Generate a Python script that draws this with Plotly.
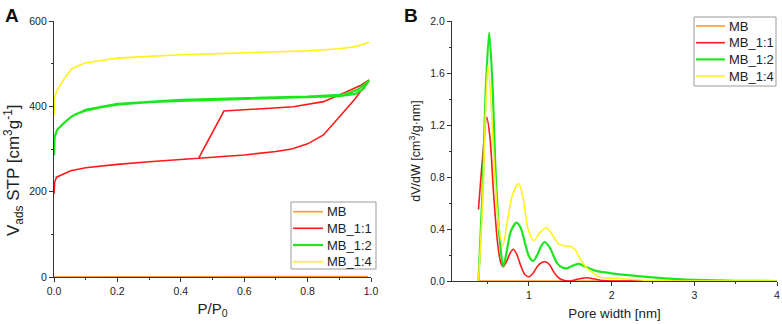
import plotly.graph_objects as go

# ---------------- Panel A: N2 isotherms ----------------
A_mb_x = [0.0, 0.05, 0.2, 0.4, 0.6, 0.8, 0.99]
A_mb_y = [0.0, 0.3, 0.5, 0.6, 0.7, 0.8, 1.0]

A_11_x = [0.0003, 0.002, 0.008, 0.03, 0.053, 0.1, 0.2, 0.3, 0.4, 0.456, 0.5, 0.6, 0.7, 0.75, 0.8, 0.85, 0.9, 0.95, 0.994,
          0.97, 0.923, 0.85, 0.755, 0.65, 0.536, 0.456]
A_11_y = [195, 222, 234, 242, 249, 256, 264, 270, 275, 279, 281, 286, 294, 300, 312, 333, 375, 418, 462,
          450, 434, 411, 399, 394, 389, 278]

A_12_x = [0.0003, 0.002, 0.01, 0.03, 0.055, 0.07, 0.1, 0.15, 0.2, 0.3, 0.4, 0.5, 0.6, 0.7, 0.8, 0.9, 0.95, 0.975, 0.994,
          0.98, 0.96, 0.93, 0.9, 0.8, 0.6, 0.4, 0.2, 0.1, 0.06]
A_12_y = [285, 328, 345, 360, 376, 382, 390, 398, 404, 410, 413, 415, 417, 419, 421, 424, 429, 440, 460,
          452, 440, 431, 427, 423, 419, 415, 406, 392, 378]

A_14_x = [0.0003, 0.002, 0.008, 0.03, 0.055, 0.07, 0.1, 0.15, 0.2, 0.3, 0.4, 0.5, 0.6, 0.7, 0.8, 0.9, 0.95, 0.994]
A_14_y = [380, 420, 436, 462, 487, 493, 502, 508, 513, 517, 521, 523, 525, 527, 530, 535, 540, 550]

# ---------------- Panel B: pore size distribution ----------------
B_mb_x = [0.39, 1.0, 2.0, 3.0, 4.0]
B_mb_y = [0.0, 0.0, 0.0, 0.0, 0.0]

B_11_x = [0.39, 0.44, 0.49, 0.53, 0.57, 0.62, 0.66, 0.69, 0.73, 0.77, 0.81, 0.85, 0.9, 0.95, 1.0, 1.05, 1.1, 1.15,
          1.2, 1.25, 1.3, 1.35, 1.4, 1.5, 1.6, 1.7, 1.8, 1.9, 2.0, 2.5, 3.0, 4.0]
B_11_y = [0.55, 0.95, 1.26, 1.1, 0.7, 0.3, 0.14, 0.11, 0.15, 0.21, 0.244, 0.21, 0.12, 0.05, 0.033, 0.06, 0.11, 0.14,
          0.148, 0.125, 0.07, 0.03, 0.01, 0.0, 0.015, 0.025, 0.015, 0.003, 0.0, 0.0, 0.0, 0.0]

B_12_x = [0.39, 0.44, 0.48, 0.52, 0.56, 0.6, 0.65, 0.69, 0.73, 0.78, 0.85, 0.9, 0.95, 1.0, 1.05, 1.1, 1.15, 1.19,
          1.25, 1.3, 1.35, 1.4, 1.46, 1.52, 1.6, 1.7, 1.8, 1.9, 2.0, 2.2, 2.5, 2.8, 3.0, 3.5, 4.0]
B_12_y = [0.0, 0.7, 1.5, 1.91, 1.5, 0.8, 0.3, 0.11, 0.22, 0.38, 0.449, 0.41, 0.3, 0.19, 0.154, 0.2, 0.27, 0.30,
          0.26, 0.19, 0.13, 0.105, 0.097, 0.115, 0.131, 0.105, 0.08, 0.068, 0.059, 0.045, 0.028, 0.014, 0.008, 0.002, 0.0]

B_14_x = [0.39, 0.44, 0.47, 0.505, 0.54, 0.58, 0.63, 0.685, 0.73, 0.8, 0.875, 0.93, 0.99, 1.06, 1.13, 1.21, 1.28,
          1.35, 1.42, 1.5, 1.56, 1.63, 1.7, 1.78, 1.85, 1.9, 2.0, 2.1, 2.2, 2.4, 2.6, 3.0, 4.0]
B_14_y = [0.0, 0.6, 1.2, 1.66, 1.4, 0.9, 0.45, 0.27, 0.42, 0.66, 0.75, 0.64, 0.4, 0.31, 0.37, 0.41, 0.36,
          0.29, 0.27, 0.268, 0.24, 0.16, 0.1, 0.06, 0.03, 0.025, 0.022, 0.02, 0.015, 0.006, 0.002, 0.0, 0.0]

names = ["MB", "MB_1:1", "MB_1:2", "MB_1:4"]
colors = ["#FF9A2E", "#FF1A1A", "#1EE61E", "#FFF21A"]
widths = [1.6, 1.6, 2.2, 1.6]

A_series = [(A_mb_x, A_mb_y), (A_11_x, A_11_y), (A_12_x, A_12_y), (A_14_x, A_14_y)]
B_series = [(B_mb_x, B_mb_y), (B_11_x, B_11_y), (B_12_x, B_12_y), (B_14_x, B_14_y)]

FONT = "Liberation Sans, Arial, sans-serif"
W, H = 782, 324
fig = go.Figure()

for (x, y), n, c, w in zip(A_series, names, colors, widths):
    fig.add_trace(go.Scatter(x=x, y=y, name=n, mode="lines", line=dict(color=c, width=w),
                             xaxis="x", yaxis="y", showlegend=False, cliponaxis=False))
for (x, y), n, c, w in zip(B_series, names, colors, widths):
    fig.add_trace(go.Scatter(x=x, y=y, name=n, mode="lines", line=dict(color=c, width=w, shape="spline", smoothing=0.8),
                             xaxis="x2", yaxis="y2", showlegend=False, cliponaxis=False))

axis_common = dict(showgrid=False, zeroline=False, showline=True, linecolor="#333333", linewidth=1.3,
                   ticks="outside", ticklen=4, tickwidth=1.2, tickcolor="#333333", automargin=False,
                   ticklabeloverflow="allow",
                   tickfont=dict(family=FONT, size=10.5, color="#222222"), layer="below traces")

# ---- compact legends (box, line samples, labels) in pixel positions ----
shapes = []
annotations = []


def add_legend(box, x_line, x_text, rows):
    x0, y0, x1, y1 = box
    shapes.append(dict(type="rect", xref="paper", yref="paper", x0=x0/W, x1=x1/W, y0=1-y1/H, y1=1-y0/H,
                       line=dict(color="#9a9a9a", width=1), fillcolor="white", layer="above"))
    for n, c, w, ry in zip(names, colors, widths, rows):
        shapes.append(dict(type="line", xref="paper", yref="paper", x0=x_line[0]/W, x1=x_line[1]/W,
                           y0=1-ry/H, y1=1-ry/H, line=dict(color=c, width=w), layer="above"))
        annotations.append(dict(text=n, xref="paper", yref="paper", x=x_text/W, y=1-ry/H, xanchor="left",
                                yanchor="middle", showarrow=False, font=dict(family=FONT, size=13, color="#222222")))


add_legend((291, 202, 376, 269), (293, 323), 325, [211.7, 228.3, 245.0, 261.7])
add_legend((694, 17, 776, 86), (696, 725), 727, [26.0, 42.7, 59.4, 76.1])

annotations += [
    dict(text="<b>A</b>", x=3/W, y=1-3/H, xref="paper", yref="paper", xanchor="left", yanchor="top",
         showarrow=False, font=dict(family=FONT, size=19, color="#111111")),
    dict(text="<b>B</b>", x=402/W, y=1-3/H, xref="paper", yref="paper", xanchor="left", yanchor="top",
         showarrow=False, font=dict(family=FONT, size=19, color="#111111")),
    # y-axis title of panel A (placed like the reference, slightly below the axis centre)
    dict(text="V<sub>ads</sub> STP [cm<sup>3</sup>g<sup>-1</sup>]", x=13/W, y=1-170/H, xref="paper", yref="paper",
         xanchor="center", yanchor="middle", textangle=-90, showarrow=False,
         font=dict(family=FONT, size=17, color="#222222")),
]

fig.update_layout(
    width=W, height=H,
    margin=dict(l=0, r=0, t=0, b=0, autoexpand=False),
    paper_bgcolor="white", plot_bgcolor="white",
    font=dict(family=FONT, color="#222222"),
    showlegend=False,
    xaxis=dict(axis_common, domain=[54/W, 371/W], range=[0, 1.0], anchor="y",
               tickvals=[0, 0.2, 0.4, 0.6, 0.8, 1.0], ticktext=["0.0", "0.2", "0.4", "0.6", "0.8", "1.0"],
               minor=dict(ticks="outside", ticklen=2, tickvals=[0.1, 0.3, 0.5, 0.7, 0.9], tickcolor="#333333"),
               title=dict(text="P/P<sub>0</sub>", font=dict(family=FONT, size=15), standoff=7)),
    yaxis=dict(axis_common, domain=[(H-277)/H, (H-21)/H], range=[0, 600], anchor="x",
               tickvals=[0, 200, 400, 600],
               minor=dict(ticks="outside", ticklen=2, tickvals=[100, 300, 500], tickcolor="#333333")),
    xaxis2=dict(axis_common, domain=[452/W, 777/W], range=[0.07, 4.0], anchor="y2",
                tickvals=[1, 2, 3, 4],
                minor=dict(ticks="outside", ticklen=2, tickvals=[0.5, 1.5, 2.5, 3.5], tickcolor="#333333"),
                title=dict(text="Pore width [nm]", font=dict(family=FONT, size=13.3), standoff=8)),
    yaxis2=dict(axis_common, domain=[(H-281)/H, (H-21)/H], range=[0, 2.0], anchor="x2",
                tickvals=[0, 0.4, 0.8, 1.2, 1.6, 2.0], ticktext=["0.0", "0.4", "0.8", "1.2", "1.6", "2.0"],
                minor=dict(ticks="outside", ticklen=2, tickvals=[0.2, 0.6, 1.0, 1.4, 1.8], tickcolor="#333333"),
                title=dict(text="dV/dW [cm<sup>3</sup>/g·nm]", font=dict(family=FONT, size=12.5), standoff=6)),
    shapes=shapes,
    annotations=annotations,
)

fig.write_html("out.html", config={"displayModeBar": False},
               post_script="document.body.style.margin='0';document.body.style.overflow='hidden';")
